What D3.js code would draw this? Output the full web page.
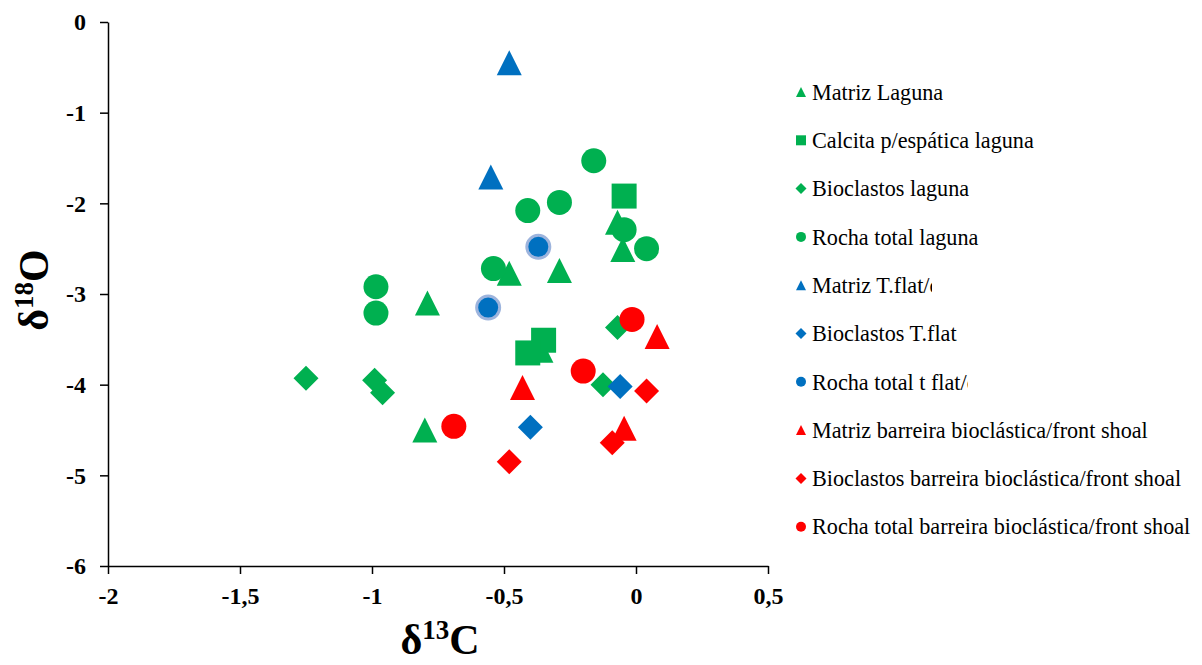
<!DOCTYPE html>
<html><head><meta charset="utf-8">
<script src="https://cdn.jsdelivr.net/npm/d3@7"></script>
<style>body{margin:0;background:#fff}svg{display:block}</style>
</head><body>
<svg id="c" width="1202" height="665"></svg>
<script>
const seriesNames = ["Matriz Laguna","Calcita p/espática laguna","Bioclastos laguna","Rocha total laguna","Matriz T.flat/c","Bioclastos T.flat","Rocha total t flat/c","Matriz barreira bioclástica/front shoal","Bioclastos barreira bioclástica/front shoal","Rocha total barreira bioclástica/front shoal"];
const seriesShapes = ["triangle","square","diamond","circle","triangle","diamond","circle","triangle","diamond","circle"];
const seriesColors = ["#00B050","#00B050","#00B050","#00B050","#0070C0","#0070C0","#0070C0","#FF0000","#FF0000","#FF0000"];
const matrizLaguna = [[-0.79,-3.10],[-0.80,-4.50],[-0.48,-2.77],[-0.29,-2.74],[-0.07,-2.21],[-0.05,-2.51],[-0.36,-3.62]];
const calcitaLaguna = [[-0.045,-1.92],[-0.35,-3.51],[-0.41,-3.65]];
const bioclastosLaguna = [[-1.25,-3.93],[-0.99,-3.95],[-0.96,-4.09],[-0.07,-3.37],[-0.125,-4.00]];
const rochaLaguna = [[-0.985,-2.92],[-0.985,-3.21],[-0.16,-1.53],[-0.29,-1.99],[-0.41,-2.08],[-0.045,-2.29],[0.04,-2.50],[-0.54,-2.72]];
const matrizTflat = [[-0.48,-0.45],[-0.55,-1.71]];
const bioclastosTflat = [[-0.06,-4.02],[-0.40,-4.47]];
const rochaTflat = [[-0.37,-2.48],[-0.56,-3.15]];
const matrizBarreira = [[0.08,-3.47],[-0.43,-4.03],[-0.045,-4.48]];
const bioclastosBarreira = [[0.04,-4.07],[-0.09,-4.64],[-0.48,-4.85]];
const rochaBarreira = [[-0.015,-3.28],[-0.20,-3.85],[-0.69,-4.46]];
const seriesData = [matrizLaguna,calcitaLaguna,bioclastosLaguna,rochaLaguna,matrizTflat,bioclastosTflat,rochaTflat,matrizBarreira,bioclastosBarreira,rochaBarreira];
const xTicks = [-2,-1.5,-1,-0.5,0,0.5];
const xTickLabels = ["-2","-1,5","-1","-0,5","0","0,5"];
const yTicks = [0,-1,-2,-3,-4,-5,-6];
const yTickLabels = ["0","-1","-2","-3","-4","-5","-6"];
const legendClip = [null,null,null,null,932,960,968,null,null,1198];

const svg = d3.select("#c");
const x = d3.scaleLinear().domain([-2,0.5]).range([108,768]);
const y = d3.scaleLinear().domain([-6,0]).range([566,22]);
const font = "'Liberation Serif','Times New Roman',serif";

const xAxis = d3.axisBottom(x).tickValues(xTicks).tickFormat((d,i)=>xTickLabels[i]).tickSize(8).tickSizeOuter(0).tickPadding(13);
const gx = svg.append("g").attr("transform",`translate(0,${y(-6)})`).call(xAxis);
const yAxis = d3.axisLeft(y).tickValues(yTicks).tickFormat((d,i)=>yTickLabels[i]).tickSize(8).tickSizeOuter(0).tickPadding(14);
const gy = svg.append("g").attr("transform",`translate(${x(-2)},0)`).call(yAxis);
[gx,gy].forEach(g=>{
  g.selectAll("path,line").attr("stroke","#000").attr("stroke-width",1.5);
  g.selectAll("text").attr("font-family",font).attr("font-weight","bold").attr("font-size",24).attr("fill","#000");
});

function shapePath(shape, s){
  const h = s/2;
  if(shape==="triangle") return `M0,${-h}L${h},${h}L${-h},${h}Z`;
  if(shape==="square") return `M${-h},${-h}H${h}V${h}H${-h}Z`;
  if(shape==="diamond") return `M0,${-h}L${h},0L0,${h}L${-h},0Z`;
  return `M${h},0A${h},${h} 0 1,1 ${-h},0A${h},${h} 0 1,1 ${h},0Z`;
}
const plot = svg.append("g");
seriesData.forEach((data,si)=>{
  const shape = seriesShapes[si];
  const isT = si===6;
  plot.append("g").selectAll("path").data(data).join("path")
    .attr("transform",d=>`translate(${x(d[0])},${y(d[1])})`)
    .attr("d",shapePath(shape,isT?23:25))
    .attr("fill",seriesColors[si])
    .attr("stroke",isT?"#9DB4DD":"none")
    .attr("stroke-width",isT?3:0);
});

// legend
const defs = svg.append("defs");
const leg = svg.append("g");
seriesNames.forEach((n,i)=>{
  const cy = 92 + i*48.3;
  const shape = seriesShapes[i];
  leg.append("path").attr("transform",`translate(801,${cy})`).attr("d",shapePath(shape,shape==="diamond"?11:10)).attr("fill",seriesColors[i]);
  const t = leg.append("text").attr("x",812).attr("y",cy).attr("dy","0.35em")
    .attr("font-family",font).attr("font-size",22.2).attr("fill","#000").text(n);
  if(legendClip[i]){
    defs.append("clipPath").attr("id","lc"+i).append("rect").attr("x",780).attr("y",cy-20).attr("width",legendClip[i]-780).attr("height",40);
    t.attr("clip-path",`url(#lc${i})`);
  }
});

// axis titles
const xt = svg.append("text").attr("x",440).attr("y",654).attr("text-anchor","middle")
  .attr("font-family",font).attr("font-weight","bold").attr("font-size",42).attr("fill","#000");
xt.append("tspan").text("δ");
xt.append("tspan").attr("dy",-15).attr("font-size",27).text("13");
xt.append("tspan").attr("dy",15).text("C");
const yt = svg.append("text").attr("transform","translate(48,290) rotate(-90)").attr("text-anchor","middle")
  .attr("font-family",font).attr("font-weight","bold").attr("font-size",42).attr("fill","#000");
yt.append("tspan").text("δ");
yt.append("tspan").attr("dy",-15).attr("font-size",27).text("18");
yt.append("tspan").attr("dy",15).text("O");
</script>
</body></html>
